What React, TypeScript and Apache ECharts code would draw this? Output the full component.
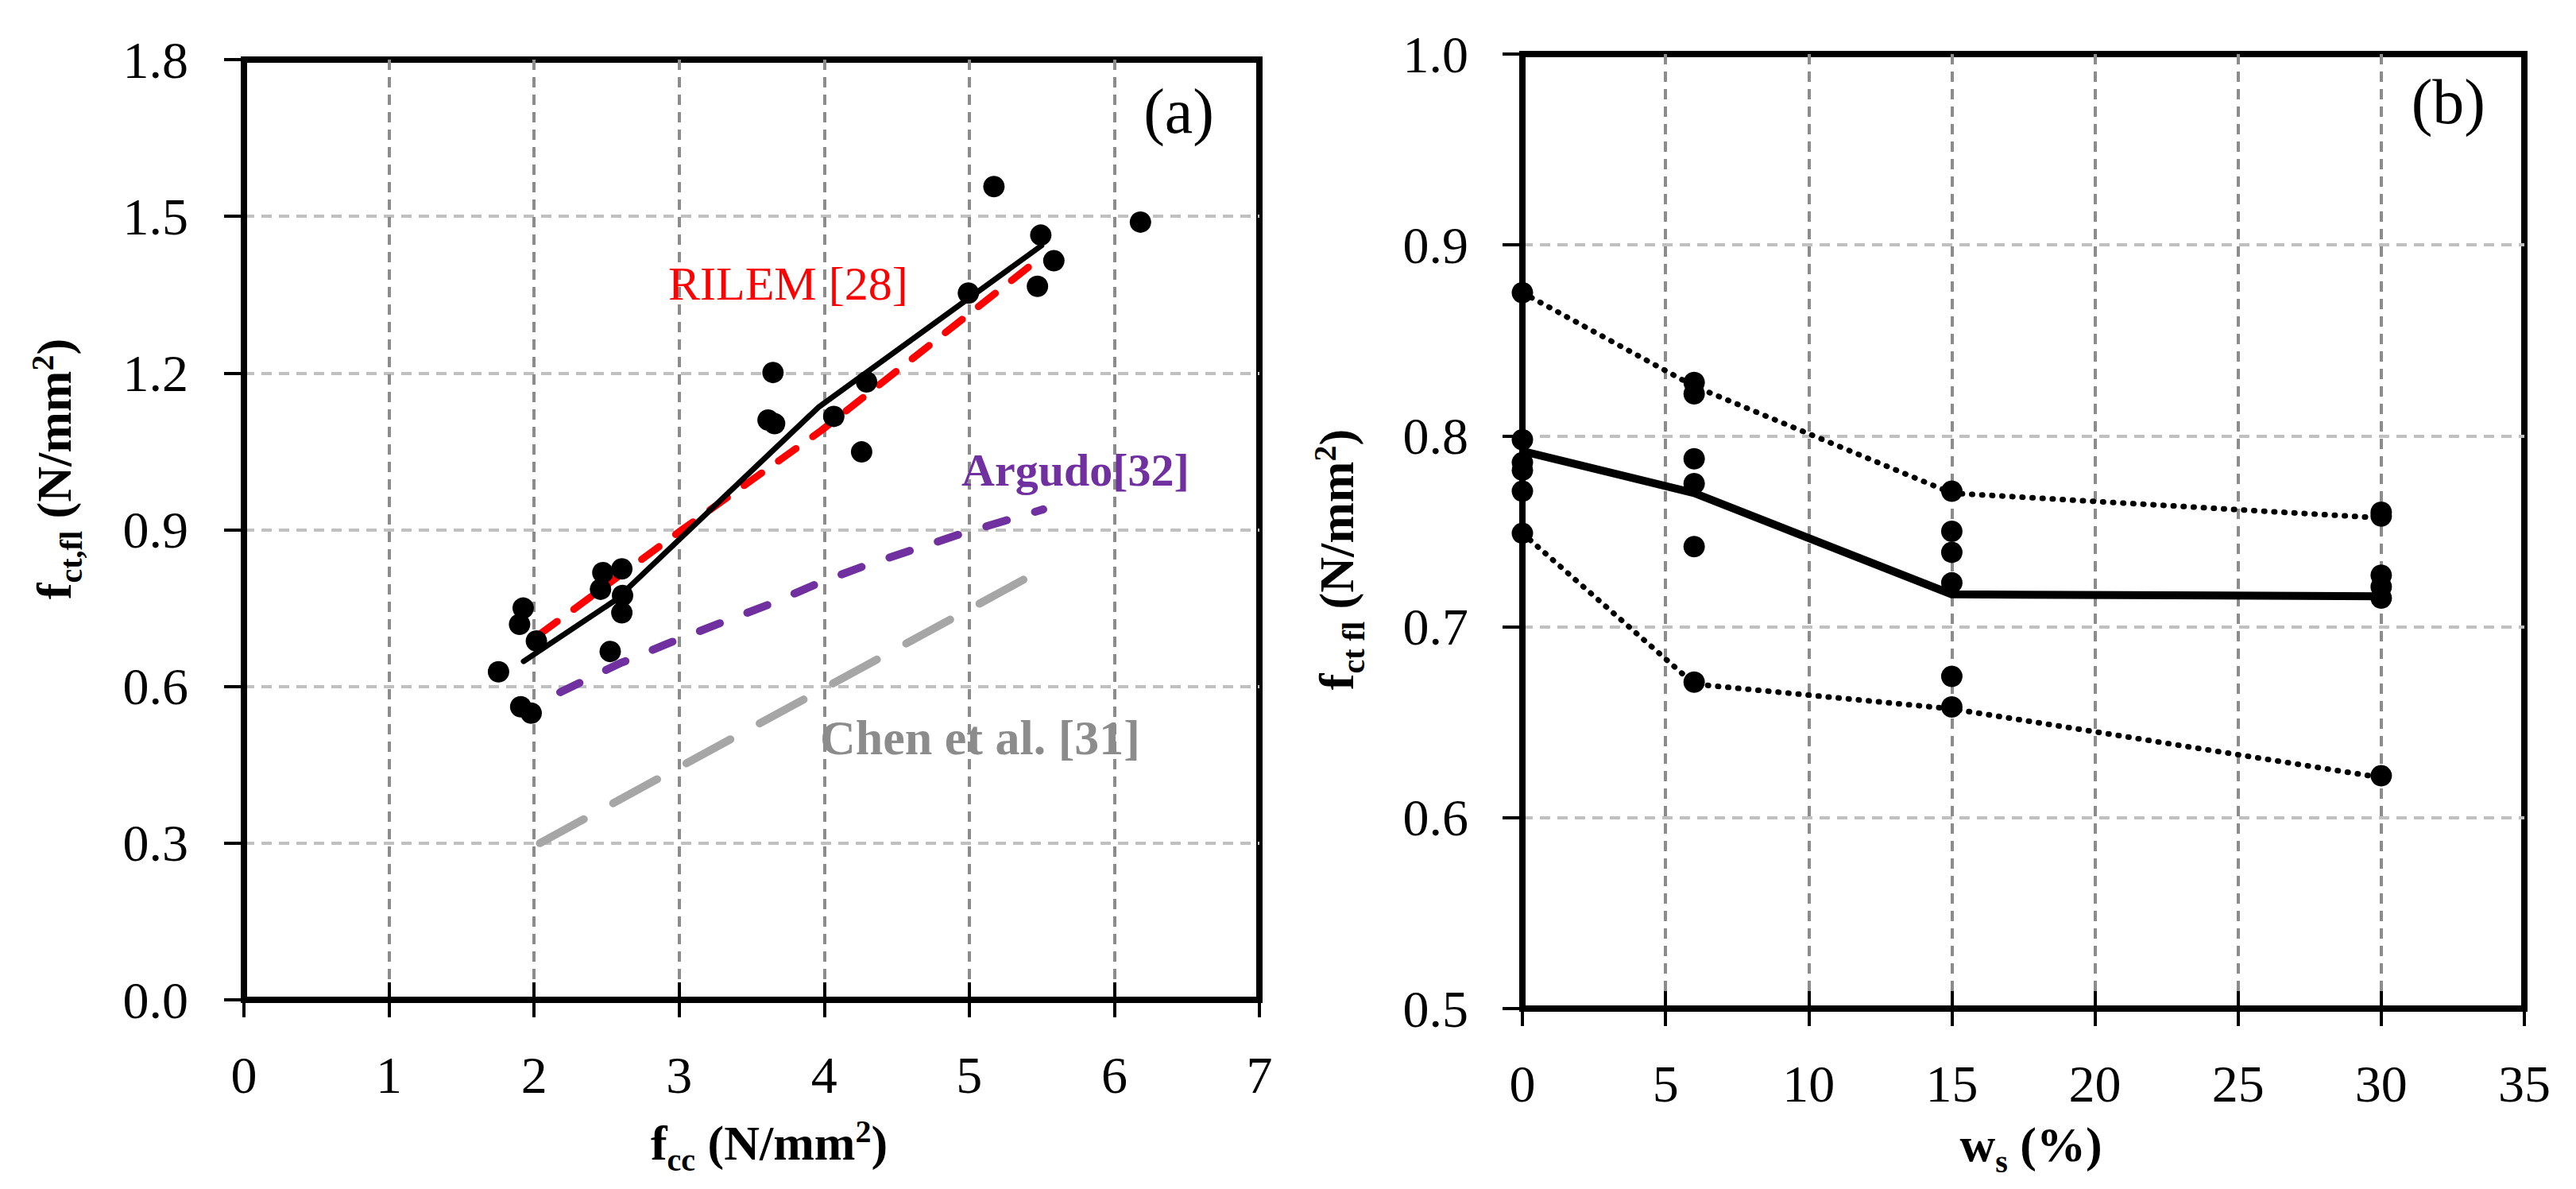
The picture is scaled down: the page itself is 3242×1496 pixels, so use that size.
import React, { useEffect, useRef } from 'react';
import * as echarts from 'echarts';

const SERIF = '"Liberation Serif", "Times New Roman", serif';

// Panel (a): f_cc vs f_ct,fl
const fccPoints: number[][] = [
  [1.755, 0.628], [1.908, 0.561], [1.98, 0.549], [1.9, 0.719], [1.925, 0.75],
  [2.016, 0.687], [2.458, 0.786], [2.474, 0.818], [2.605, 0.825], [2.61, 0.774],
  [2.605, 0.741], [2.525, 0.667], [3.613, 1.11], [3.658, 1.103], [3.647, 1.201],
  [4.066, 1.117], [4.292, 1.183], [4.258, 1.049], [4.994, 1.353], [5.17, 1.557],
  [5.493, 1.464], [5.47, 1.366], [5.583, 1.415], [6.18, 1.489],
];
const fitLine: number[][] = [[1.928, 0.648], [2.56, 0.765], [3.963, 1.135], [5.498, 1.444]];
const rilemLine: number[][] = [[2.04, 0.70], [3.02, 0.90], [3.98, 1.09], [5.51, 1.425]];
const argudoLine: number[][] = [
  [2.18, 0.589], [2.59, 0.644], [2.94, 0.684], [3.29, 0.722], [3.63, 0.758],
  [3.98, 0.8], [4.29, 0.832], [4.92, 0.89], [5.51, 0.939],
];
const chenLine: number[][] = [[2.04, 0.30], [5.51, 0.825]];

// Panel (b): w_s vs f_ct fl
const wsPoints: number[][] = [
  [0, 0.875], [0, 0.798], [0, 0.786], [0, 0.782], [0, 0.771], [0, 0.749],
  [6, 0.828], [6, 0.822], [6, 0.788], [6, 0.775], [6, 0.742], [6, 0.671],
  [15, 0.771], [15, 0.75], [15, 0.739], [15, 0.723], [15, 0.674], [15, 0.658],
  [30, 0.76], [30, 0.758], [30, 0.727], [30, 0.721], [30, 0.715], [30, 0.622],
];
const wsMean: number[][] = [[0, 0.792], [6, 0.77], [15, 0.717], [30, 0.716]];
const wsUpper: number[][] = [[0, 0.875], [6, 0.826], [15, 0.77], [30, 0.757]];
const wsLower: number[][] = [[0, 0.749], [6, 0.67], [15, 0.657], [30, 0.621]];

const xRangeA = { min: 0, max: 7, interval: 1 };
const yRangeA = { min: 0, max: 1.8, interval: 0.3 };
const xRangeB = { min: 0, max: 35, interval: 5 };
const yRangeB = { min: 0.5, max: 1.0, interval: 0.1 };

function mainX(gridIndex: number, r: any) {
  return {
    type: 'value', gridIndex, position: 'bottom', ...r,
    axisLine: { show: true, onZero: false, lineStyle: { color: '#000', width: 8 } },
    axisTick: { show: true, inside: false, length: 22, lineStyle: { color: '#000', width: 4 } },
    axisLabel: { show: true, margin: 61, fontSize: 66, fontFamily: SERIF, color: '#000' },
    splitLine: {
      show: true, showMinLine: false, showMaxLine: false,
      lineStyle: { color: '#8c8c8c', width: 4, type: [13, 9] },
    },
  };
}
function innerX(gridIndex: number, r: any) {
  return {
    type: 'value', gridIndex, position: 'bottom', ...r,
    axisLine: { show: false, onZero: false },
    axisTick: { show: true, inside: true, length: 22, lineStyle: { color: '#000', width: 4 } },
    axisLabel: { show: false },
    splitLine: { show: false },
  };
}
function mainY(gridIndex: number, r: any, margin: number) {
  return {
    type: 'value', gridIndex, position: 'left', ...r,
    axisLine: { show: true, onZero: false, lineStyle: { color: '#000', width: 8 } },
    axisTick: { show: true, inside: false, length: 25, lineStyle: { color: '#000', width: 4 } },
    axisLabel: {
      show: true, margin, fontSize: 66, fontFamily: SERIF, color: '#000',
      formatter: (v: number) => v.toFixed(1),
    },
    splitLine: {
      show: true, showMinLine: false, showMaxLine: false,
      lineStyle: { color: '#c0c0c0', width: 4, type: [13, 9] },
    },
  };
}

const titleRich = {
  b: { fontSize: 62, fontWeight: 'bold', fontFamily: SERIF, verticalAlign: 'middle' },
  s: { fontSize: 40, fontWeight: 'bold', fontFamily: SERIF, verticalAlign: 'middle', padding: [43, 0, 0, 0] },
  p: { fontSize: 40, fontWeight: 'bold', fontFamily: SERIF, verticalAlign: 'middle', padding: [0, 0, 29, 0] },
};

function titleText(x: number, y: number, text: string, rotate: boolean) {
  return {
    type: 'text', x, y, rotation: rotate ? Math.PI / 2 : 0, z: 10,
    style: {
      text, rich: titleRich, fill: '#000', align: 'center', verticalAlign: 'middle',
      fontSize: 62, fontWeight: 'bold', fontFamily: SERIF,
    },
  };
}

function plainText(x: number, y: number, text: string, size: number, color: string, weight: string, align: string) {
  return {
    type: 'text', x, y, z: 10,
    style: { text, fill: color, fontSize: size, fontWeight: weight, fontFamily: SERIF, align, verticalAlign: 'middle' },
  };
}

export default function App() {
  const ref = useRef<HTMLDivElement>(null);
  useEffect(() => {
    document.body.style.margin = '0';
    if (!ref.current) return;
    const chart = echarts.init(ref.current, null, { renderer: 'svg' });
    const option: any = {
      animation: false,
      backgroundColor: '#ffffff',
      grid: [
        { left: 307, top: 75, width: 1278, height: 1183, show: true, borderColor: '#000', borderWidth: 8, containLabel: false },
        { left: 1916, top: 68, width: 1261, height: 1201, show: true, borderColor: '#000', borderWidth: 8, containLabel: false },
      ],
      xAxis: [mainX(0, xRangeA), innerX(0, xRangeA), mainX(1, xRangeB), innerX(1, xRangeB)],
      yAxis: [mainY(0, yRangeA, 70), mainY(1, yRangeB, 68)],
      series: [
        {
          type: 'line', xAxisIndex: 0, yAxisIndex: 0, data: chenLine, symbol: 'none', z: 2,
          lineStyle: { color: '#a6a6a6', width: 10, type: [63, 42], cap: 'round' },
        },
        {
          type: 'line', xAxisIndex: 0, yAxisIndex: 0, data: argudoLine, symbol: 'none', z: 2,
          lineStyle: { color: '#7030a0', width: 10, type: [27, 37], cap: 'round' },
        },
        {
          type: 'line', xAxisIndex: 0, yAxisIndex: 0, data: rilemLine, symbol: 'none', z: 3,
          lineStyle: { color: '#ff0000', width: 9, type: [27, 26], cap: 'round' },
        },
        {
          type: 'line', xAxisIndex: 0, yAxisIndex: 0, data: fitLine, symbol: 'none', z: 4,
          lineStyle: { color: '#000', width: 7, type: 'solid', cap: 'round', join: 'round' },
        },
        {
          type: 'scatter', xAxisIndex: 0, yAxisIndex: 0, data: fccPoints, symbol: 'circle', symbolSize: 27, z: 5,
          itemStyle: { color: '#000', opacity: 1 },
        },
        {
          type: 'line', xAxisIndex: 2, yAxisIndex: 1, data: wsUpper, symbol: 'none', z: 2,
          lineStyle: { color: '#000', width: 7, type: [1, 11.7], cap: 'round' },
        },
        {
          type: 'line', xAxisIndex: 2, yAxisIndex: 1, data: wsLower, symbol: 'none', z: 2,
          lineStyle: { color: '#000', width: 7, type: [1, 11.7], cap: 'round' },
        },
        {
          type: 'line', xAxisIndex: 2, yAxisIndex: 1, data: wsMean, symbol: 'none', z: 3,
          lineStyle: { color: '#000', width: 10, type: 'solid', join: 'round' },
        },
        {
          type: 'scatter', xAxisIndex: 2, yAxisIndex: 1, data: wsPoints, symbol: 'circle', symbolSize: 27, z: 5,
          itemStyle: { color: '#000', opacity: 1 },
        },
      ],
      graphic: [
        plainText(1528, 140, '(a)', 80, '#000', 'normal', 'right'),
        plainText(3128, 128, '(b)', 80, '#000', 'normal', 'right'),
        plainText(841, 357, 'RILEM [28]', 60, '#ff0000', 'normal', 'left'),
        plainText(1210, 591, 'Argudo[32]', 58, '#7030a0', 'bold', 'left'),
        plainText(1032, 928, 'Chen et al. [31]', 62, '#8c8c8c', 'bold', 'left'),
        titleText(68, 590, '{b|f}{s|ct,fl}{b| (N/mm}{p|2}{b|)}', true),
        titleText(1682, 704, '{b|f}{s|ct fl}{b| (N/mm}{p|2}{b|)}', true),
        titleText(968, 1438, '{b|f}{s|cc}{b| (N/mm}{p|2}{b|)}', false),
        titleText(2556, 1440, '{b|w}{s|s}{b| (%)}', false),
      ],
    };
    chart.setOption(option);
    return () => chart.dispose();
  }, []);
  return <div ref={ref} style={{ width: 3242, height: 1496 }} />;
}
